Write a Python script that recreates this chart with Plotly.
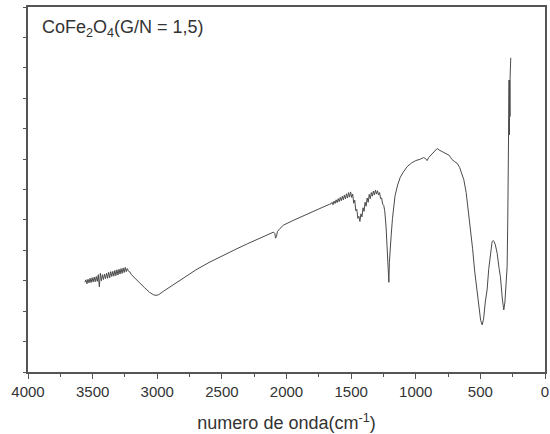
import plotly.graph_objects as go

# FTIR spectrum of CoFe2O4 (G/N = 1,5): wavenumber (cm-1) vs transmittance (a.u.)
wavenumber = [
    # noisy O-H stretching region
    3560, 3552, 3544, 3536, 3528, 3520, 3512, 3504, 3496, 3488, 3480, 3472, 3464,
    3456, 3448, 3440, 3432, 3424, 3416, 3408, 3400, 3392, 3384, 3376, 3368, 3360,
    3352, 3344, 3336, 3328, 3320, 3312, 3304, 3296, 3288, 3280, 3272, 3264, 3256,
    3248, 3240, 3232, 3224,
    # smooth background
    3210, 3200, 3150, 3100, 3060, 3030, 3010, 2990, 2950, 2900, 2800, 2700, 2600,
    2500, 2400, 2300, 2200, 2120, 2100, 2090, 2085, 2078, 2070, 2050, 2023, 1950,
    1850, 1750, 1665,
    # noisy 1650-1250 region
    1656, 1648, 1640, 1632, 1624, 1616, 1608, 1600, 1592, 1584, 1576, 1568, 1560,
    1552, 1544, 1536, 1528, 1520, 1512, 1504, 1496, 1488, 1480, 1472, 1464, 1456,
    1448, 1440, 1432, 1424, 1416, 1408, 1400, 1392, 1384, 1376, 1368, 1360, 1352,
    1344, 1336, 1328, 1320, 1312, 1304, 1296, 1288, 1280, 1272, 1264, 1256, 1248,
    1240,
    # bands down to the low-wavenumber end
    1230, 1220, 1212, 1208, 1204, 1198, 1190, 1180, 1170, 1160, 1140, 1120, 1100,
    1067, 1030, 1000, 963, 940, 925, 912, 900, 880, 860, 845, 834, 820, 800, 780,
    760, 740, 730, 718, 700, 679, 660, 645, 628, 610, 595, 577, 560, 545, 525, 510,
    498, 486, 475, 462, 448, 435, 420, 409, 400, 395, 384, 370, 355, 345, 330, 319,
    310, 300, 293, 288, 284, 281, 280, 279, 278, 277, 276, 275, 274, 273, 272, 271,
    270, 268, 265,
]
transmittance = [
    2.95, 3.03, 2.90, 3.05, 2.93, 3.08, 2.94, 3.10, 2.96, 3.12, 2.97, 3.14, 2.98,
    3.20, 2.80, 3.25, 3.00, 3.20, 3.04, 3.22, 3.07, 3.25, 3.08, 3.28, 3.10, 3.30,
    3.14, 3.31, 3.15, 3.34, 3.17, 3.36, 3.19, 3.38, 3.22, 3.40, 3.24, 3.42, 3.27,
    3.44, 3.30, 3.40, 3.32,
    3.28, 3.20, 2.98, 2.78, 2.62, 2.54, 2.52, 2.54, 2.66, 2.80, 3.08, 3.36, 3.60,
    3.82, 4.02, 4.22, 4.42, 4.57, 4.60, 4.55, 4.40, 4.45, 4.62, 4.72, 4.83, 4.98,
    5.18, 5.36, 5.52,
    5.53, 5.58, 5.50, 5.62, 5.54, 5.66, 5.57, 5.70, 5.60, 5.74, 5.63, 5.78, 5.66,
    5.82, 5.69, 5.86, 5.72, 5.90, 5.75, 5.92, 5.74, 5.85, 5.55, 5.65, 5.30, 5.35,
    5.05, 5.12, 4.95, 5.20, 5.10, 5.40, 5.28, 5.58, 5.45, 5.72, 5.58, 5.84, 5.70,
    5.90, 5.78, 5.95, 5.82, 5.98, 5.85, 5.96, 5.82, 5.90, 5.70, 5.72, 5.52, 5.48,
    5.30,
    4.80, 3.90, 3.10, 2.95, 3.60, 4.10, 4.50, 5.05, 5.45, 5.80, 6.15, 6.40, 6.55,
    6.75, 6.88, 6.95, 7.00, 7.05, 7.02, 6.95, 7.05, 7.15, 7.25, 7.33, 7.35, 7.30,
    7.25, 7.22, 7.15, 7.12, 7.05, 6.98, 6.92, 6.86, 6.72, 6.55, 6.32, 5.90, 5.40,
    4.78, 4.05, 3.35, 2.60, 2.05, 1.70, 1.55, 1.75, 2.30, 2.70, 3.40, 3.95, 4.29,
    4.32, 4.30, 4.18, 3.90, 3.40, 3.13, 2.40, 2.04, 2.30, 3.00, 3.46, 5.00, 6.50,
    7.60, 9.40, 7.70, 9.60, 7.90, 9.50, 7.80, 9.60, 8.10, 9.50, 8.40, 9.70, 10.0,
    10.33,
]

x_ticks = [4000, 3500, 3000, 2500, 2000, 1500, 1000, 500, 0]
x_tick_labels = ["4000", "3500", "3000", "2500", "2000", "1500", "1000", "500", "0"]

font_family = "Liberation Sans, Arial, sans-serif"
axis_color = "#555555"
text_color = "#333333"

fig = go.Figure()
fig.add_trace(go.Scatter(
    x=wavenumber,
    y=transmittance,
    mode="lines",
    line=dict(color="#4a4a4a", width=1),
    showlegend=False,
    hoverinfo="skip",
))

fig.add_annotation(
    text="CoFe<sub>2</sub>O<sub>4</sub>(G/N = 1,5)",
    xref="paper", yref="paper",
    x=0.024, y=0.94,
    xanchor="left", yanchor="middle",
    showarrow=False,
    font=dict(family=font_family, size=18, color=text_color),
)

fig.update_layout(
    width=550,
    height=434,
    margin=dict(l=28, r=5, t=7, b=62),
    paper_bgcolor="white",
    plot_bgcolor="white",
    font=dict(family=font_family, color=text_color),
)

fig.update_xaxes(
    range=[4000, 0],
    tickvals=x_ticks,
    ticktext=x_tick_labels,
    ticks="outside",
    ticklen=5,
    tickwidth=1.2,
    tickcolor=axis_color,
    minor=dict(dtick=250, ticks="outside", ticklen=3, tickcolor=axis_color, showgrid=False),
    showline=True,
    linecolor=axis_color,
    linewidth=1.6,
    mirror=True,
    showgrid=False,
    zeroline=False,
    automargin=False,
    tickfont=dict(size=15, color=text_color),
    title=dict(text="numero de onda(cm<sup>-1</sup>)", font=dict(size=18, color=text_color), standoff=18),
)

fig.update_yaxes(
    range=[0, 12],
    dtick=1,
    showticklabels=False,
    ticks="outside",
    ticklen=3,
    tickwidth=1.2,
    tickcolor=axis_color,
    showline=True,
    linecolor=axis_color,
    linewidth=1.6,
    mirror=True,
    showgrid=False,
    zeroline=False,
    automargin=False,
)

fig.write_html("out.html")
